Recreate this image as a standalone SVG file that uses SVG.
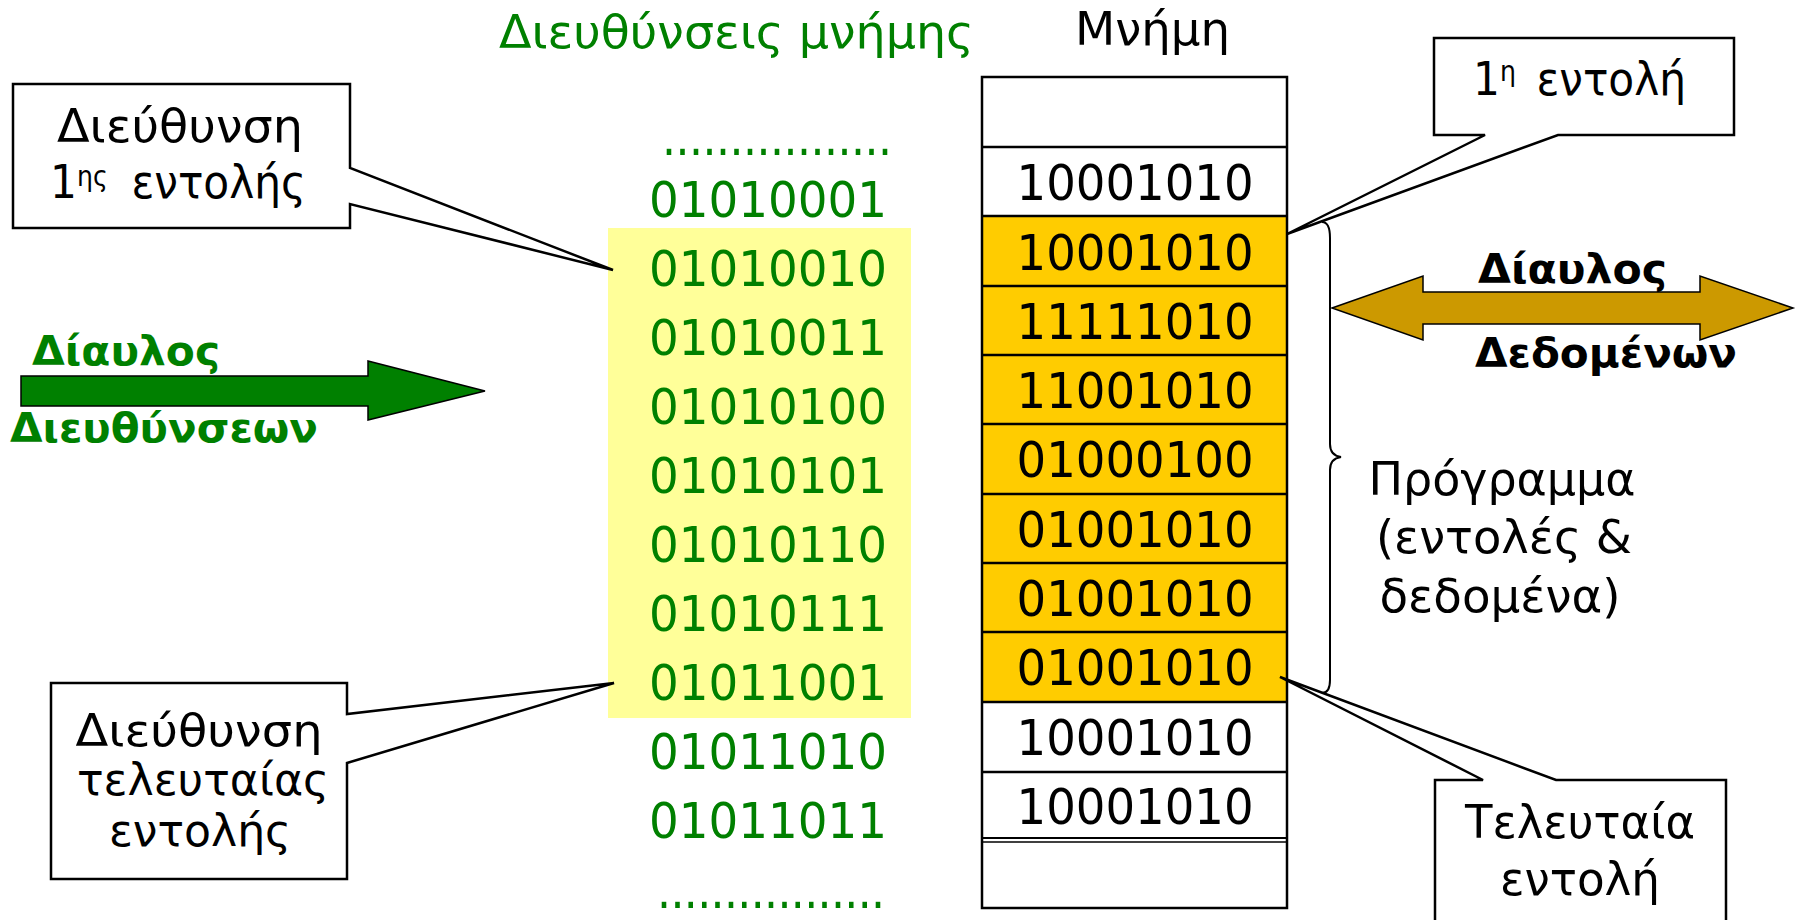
<svg xmlns="http://www.w3.org/2000/svg" width="1800" height="920" viewBox="0 0 1800 920">
<style>
  .t { font-family: 'DejaVu Sans Condensed', 'DejaVu Sans', 'Liberation Sans', sans-serif; font-stretch: condensed; }
  .body { font-size: 47px; fill: #000; }
  .num { font-size: 49px; }
  .addr { fill: #008000; }
  .mem { fill: #000; }
  .b { font-family: 'DejaVu Sans', 'Liberation Sans', sans-serif; font-weight: bold; font-size: 40px; }
  .sup { font-size: 28px; }
  .box { fill: #fff; stroke: #000; stroke-width: 2.5; stroke-linejoin: miter; }
  .cellline { stroke: #000; stroke-width: 2.5; }
  .arrow { stroke: #000; stroke-width: 1.5; }
</style>
<rect x="0" y="0" width="1800" height="920" fill="#fff"/>

<g id="title-addresses">
  <text class="t addr" x="499" y="48" font-size="47" textLength="475" lengthAdjust="spacingAndGlyphs">Διευθύνσεις μνήμης</text>
</g>
<g id="title-memory">
  <text class="t body" x="1075" y="45" font-size="47" textLength="155" lengthAdjust="spacingAndGlyphs">Μνήμη</text>
</g>

<g id="address-list">
  <rect x="608" y="228" width="303" height="490" fill="#FFFF99"/>
  <text class="t num addr" x="662" y="155" textLength="230" lengthAdjust="spacing">.................</text>
  <g class="t num addr" text-anchor="middle">
    <text x="768" y="217" textLength="238" lengthAdjust="spacingAndGlyphs">01010001</text>
    <text x="768" y="286" textLength="238" lengthAdjust="spacingAndGlyphs">01010010</text>
    <text x="768" y="355" textLength="238" lengthAdjust="spacingAndGlyphs">01010011</text>
    <text x="768" y="424" textLength="238" lengthAdjust="spacingAndGlyphs">01010100</text>
    <text x="768" y="493" textLength="238" lengthAdjust="spacingAndGlyphs">01010101</text>
    <text x="768" y="562" textLength="238" lengthAdjust="spacingAndGlyphs">01010110</text>
    <text x="768" y="631" textLength="238" lengthAdjust="spacingAndGlyphs">01010111</text>
    <text x="768" y="700" textLength="238" lengthAdjust="spacingAndGlyphs">01011001</text>
    <text x="768" y="769" textLength="238" lengthAdjust="spacingAndGlyphs">01011010</text>
    <text x="768" y="838" textLength="238" lengthAdjust="spacingAndGlyphs">01011011</text>
  </g>
  <text class="t num addr" x="657" y="908" textLength="228" lengthAdjust="spacing">.................</text>
</g>

<g id="memory">
  <rect x="982" y="77" width="305" height="831" fill="#fff"/>
  <rect x="982" y="216" width="305" height="486" fill="#FFCC00"/>
  <g class="cellline">
    <line x1="982" y1="147" x2="1287" y2="147"/>
    <line x1="982" y1="216" x2="1287" y2="216"/>
    <line x1="982" y1="286" x2="1287" y2="286"/>
    <line x1="982" y1="355" x2="1287" y2="355"/>
    <line x1="982" y1="424" x2="1287" y2="424"/>
    <line x1="982" y1="494" x2="1287" y2="494"/>
    <line x1="982" y1="563" x2="1287" y2="563"/>
    <line x1="982" y1="632" x2="1287" y2="632"/>
    <line x1="982" y1="702" x2="1287" y2="702"/>
    <line x1="982" y1="772" x2="1287" y2="772"/>
    <line x1="982" y1="838" x2="1287" y2="838" stroke-width="2"/>
    <line x1="982" y1="842" x2="1287" y2="842" stroke-width="1.5"/>
  </g>
  <rect x="982" y="77" width="305" height="831" fill="none" stroke="#000" stroke-width="2.5"/>
  <g class="t num mem" text-anchor="middle">
    <text x="1135" y="200" textLength="237" lengthAdjust="spacingAndGlyphs">10001010</text>
    <text x="1135" y="270" textLength="237" lengthAdjust="spacingAndGlyphs">10001010</text>
    <text x="1135" y="339" textLength="237" lengthAdjust="spacingAndGlyphs">11111010</text>
    <text x="1135" y="408" textLength="237" lengthAdjust="spacingAndGlyphs">11001010</text>
    <text x="1135" y="477" textLength="237" lengthAdjust="spacingAndGlyphs">01000100</text>
    <text x="1135" y="547" textLength="237" lengthAdjust="spacingAndGlyphs">01001010</text>
    <text x="1135" y="616" textLength="237" lengthAdjust="spacingAndGlyphs">01001010</text>
    <text x="1135" y="685" textLength="237" lengthAdjust="spacingAndGlyphs">01001010</text>
    <text x="1135" y="755" textLength="237" lengthAdjust="spacingAndGlyphs">10001010</text>
    <text x="1135" y="824" textLength="237" lengthAdjust="spacingAndGlyphs">10001010</text>
  </g>
</g>

<g id="callout-first-address">
  <path class="box" d="M13,84 H350 V168 L613,270 L350,204 V228 H13 Z"/>
  <text class="t body" x="57" y="142" textLength="246" lengthAdjust="spacingAndGlyphs">Διεύθυνση</text>
  <text class="t body"><tspan x="50" y="198">1</tspan><tspan class="sup" x="77" y="186">ης</tspan><tspan x="118" y="198"> εντολής</tspan></text>
</g>

<g id="callout-last-address">
  <path class="box" d="M51,683 H347 V714 L614,683 L347,763 V879 H51 Z"/>
  <g class="t" font-size="44" fill="#000" text-anchor="middle">
    <text x="199" y="746" textLength="247" lengthAdjust="spacingAndGlyphs">Διεύθυνση</text>
    <text x="203" y="795" textLength="252" lengthAdjust="spacingAndGlyphs">τελευταίας</text>
    <text x="200" y="846" textLength="182" lengthAdjust="spacingAndGlyphs">εντολής</text>
  </g>
</g>

<g id="callout-first-instruction">
  <path class="box" d="M1434,38 H1734 V135 H1558 L1287,234 L1485,135 H1434 Z"/>
  <text class="t body"><tspan x="1473" y="95">1</tspan><tspan class="sup" x="1500" y="81">η</tspan><tspan x="1523" y="95"> εντολή</tspan></text>
</g>

<g id="callout-last-instruction">
  <path class="box" d="M1435,780 H1483 L1280,677 L1556,780 H1726 V925 H1435 Z"/>
  <g class="t body" text-anchor="middle">
    <text x="1580" y="838" textLength="230" lengthAdjust="spacingAndGlyphs">Τελευταία</text>
    <text x="1580" y="895" textLength="160" lengthAdjust="spacingAndGlyphs">εντολή</text>
  </g>
</g>

<g id="program-label">
  <g class="t body" text-anchor="middle">
    <text x="1502" y="495" textLength="267" lengthAdjust="spacingAndGlyphs">Πρόγραμμα</text>
    <text x="1504" y="553" textLength="256" lengthAdjust="spacingAndGlyphs">(εντολές &amp;</text>
    <text x="1500" y="612" textLength="241" lengthAdjust="spacingAndGlyphs">δεδομένα)</text>
  </g>
</g>

<g id="connectors">
  <path id="brace" d="M1322,222 C1328,222 1330,228 1330,238 V444 C1330,452 1334,456 1341,457 C1334,458 1330,462 1330,470 V680 C1330,688 1328,693 1322,693" fill="none" stroke="#000" stroke-width="2"/>
  <g id="address-bus">
    <polygon class="arrow" fill="#008000" points="21,376 368,376 368,361 485,391 368,420 368,406 21,406"/>
    <text class="b" fill="#008000" x="32" y="365" textLength="188" lengthAdjust="spacingAndGlyphs">Δίαυλος</text>
    <text class="b" fill="#008000" x="10" y="442" textLength="308" lengthAdjust="spacingAndGlyphs">Διευθύνσεων</text>
  </g>
  <g id="data-bus">
    <polygon class="arrow" fill="#CC9900" points="1332,308 1423,276 1423,292 1700,292 1700,276 1793,308 1700,340 1700,324 1423,324 1423,340"/>
    <text class="b" fill="#000" x="1478" y="283" textLength="189" lengthAdjust="spacingAndGlyphs">Δίαυλος</text>
    <text class="b" fill="#000" x="1475" y="367" textLength="262" lengthAdjust="spacingAndGlyphs">Δεδομένων</text>
  </g>
</g>
</svg>
